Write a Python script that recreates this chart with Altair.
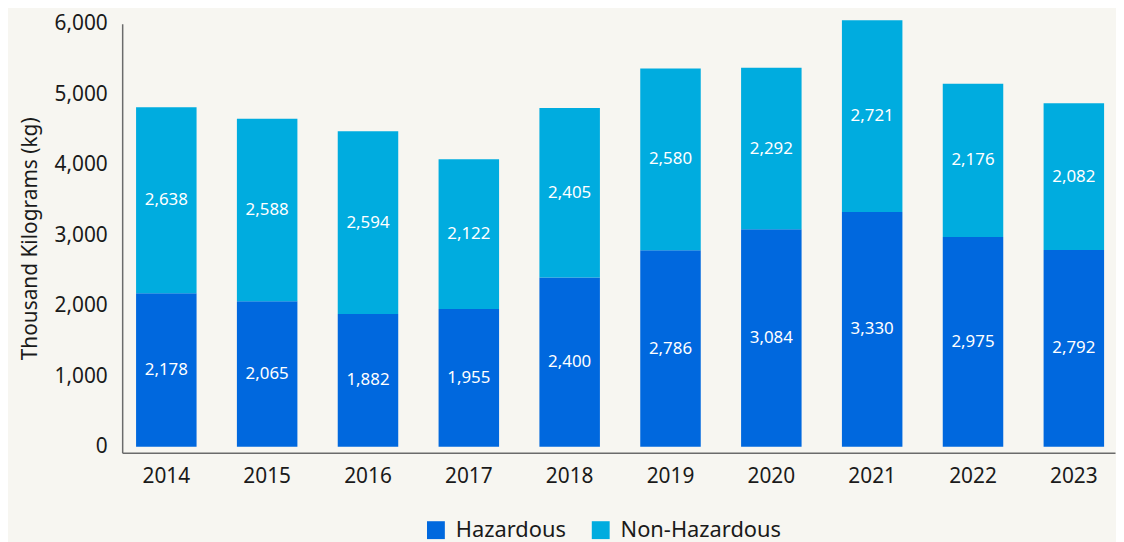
import altair as alt
import pandas as pd

years = ["2014", "2015", "2016", "2017", "2018", "2019", "2020", "2021", "2022", "2023"]
hazardous = [2178, 2065, 1882, 1955, 2400, 2786, 3084, 3330, 2975, 2792]
non_hazardous = [2638, 2588, 2594, 2122, 2405, 2580, 2292, 2721, 2176, 2082]
series = ["Hazardous", "Non-Hazardous"]
colors = ["#0068DE", "#00ACDF"]
y_ticks = [0, 1000, 2000, 3000, 4000, 5000, 6000]

rows = []
for i, yr in enumerate(years):
    rows.append({"year": yr, "type": series[0], "value": hazardous[i], "order": 0})
    rows.append({"year": yr, "type": series[1], "value": non_hazardous[i], "order": 1})
df = pd.DataFrame(rows)

FONT = "Noto Sans"

x_enc = alt.X(
    "year:N",
    sort=years,
    title=None,
    scale=alt.Scale(paddingInner=0.4, paddingOuter=0.123, align=0.56),
    axis=alt.Axis(
        labelAngle=0, ticks=False, labelPadding=13, labelFontSize=21,
        labelColor="#1a1a1a", domainColor="#6b6b6b", domainWidth=1.5, labelFont=FONT,
    ),
)
y_scale = alt.Scale(domain=[-85, 6000], nice=False, zero=False)

bars = alt.Chart(df).mark_bar().encode(
    x=x_enc,
    y=alt.Y(
        "sum(value):Q",
        stack="zero",
        scale=y_scale,
        title="Thousand Kilograms (kg)",
        axis=alt.Axis(
            values=y_ticks, format=",.0f", ticks=False, grid=False, labelPadding=15,
            labelFontSize=21, labelColor="#1a1a1a", titleFontSize=21,
            titleFontWeight="normal", titleColor="#1a1a1a", titlePadding=14,
            domainColor="#6b6b6b", domainWidth=1.5, labelFont=FONT, titleFont=FONT,
        ),
    ),
    color=alt.Color(
        "type:N",
        sort=series,
        scale=alt.Scale(domain=series, range=colors),
        legend=alt.Legend(
            title=None, orient="none", direction="horizontal", legendX=305, legendY=499,
            symbolType="square", symbolSize=324, symbolStrokeWidth=0, labelFontSize=22,
            labelFont=FONT, labelColor="#1a1a1a", labelOffset=9, columnPadding=24,
            labelLimit=400,
        ),
    ),
    order=alt.Order("order:Q"),
)

labels = alt.Chart(df).mark_text(color="white", fontSize=17, font=FONT).transform_stack(
    stack="value", groupby=["year"], sort=[alt.SortField("order")], as_=["v0", "v1"]
).transform_calculate(
    mid="(datum.v0 + datum.v1) / 2"
).encode(
    x=alt.X("year:N", sort=years),
    y=alt.Y("mid:Q", scale=y_scale),
    text=alt.Text("value:Q", format=","),
)

chart = alt.layer(bars, labels).properties(
    width=1000, height=432,
    autosize=alt.AutoSizeParams(type="none"),
    padding={"left": 115, "top": 14, "right": 1, "bottom": 88},
    background="#F7F6F1",
).configure_view(stroke=None)

chart.save("out.html", embed_options={"renderer": "svg", "actions": False})
